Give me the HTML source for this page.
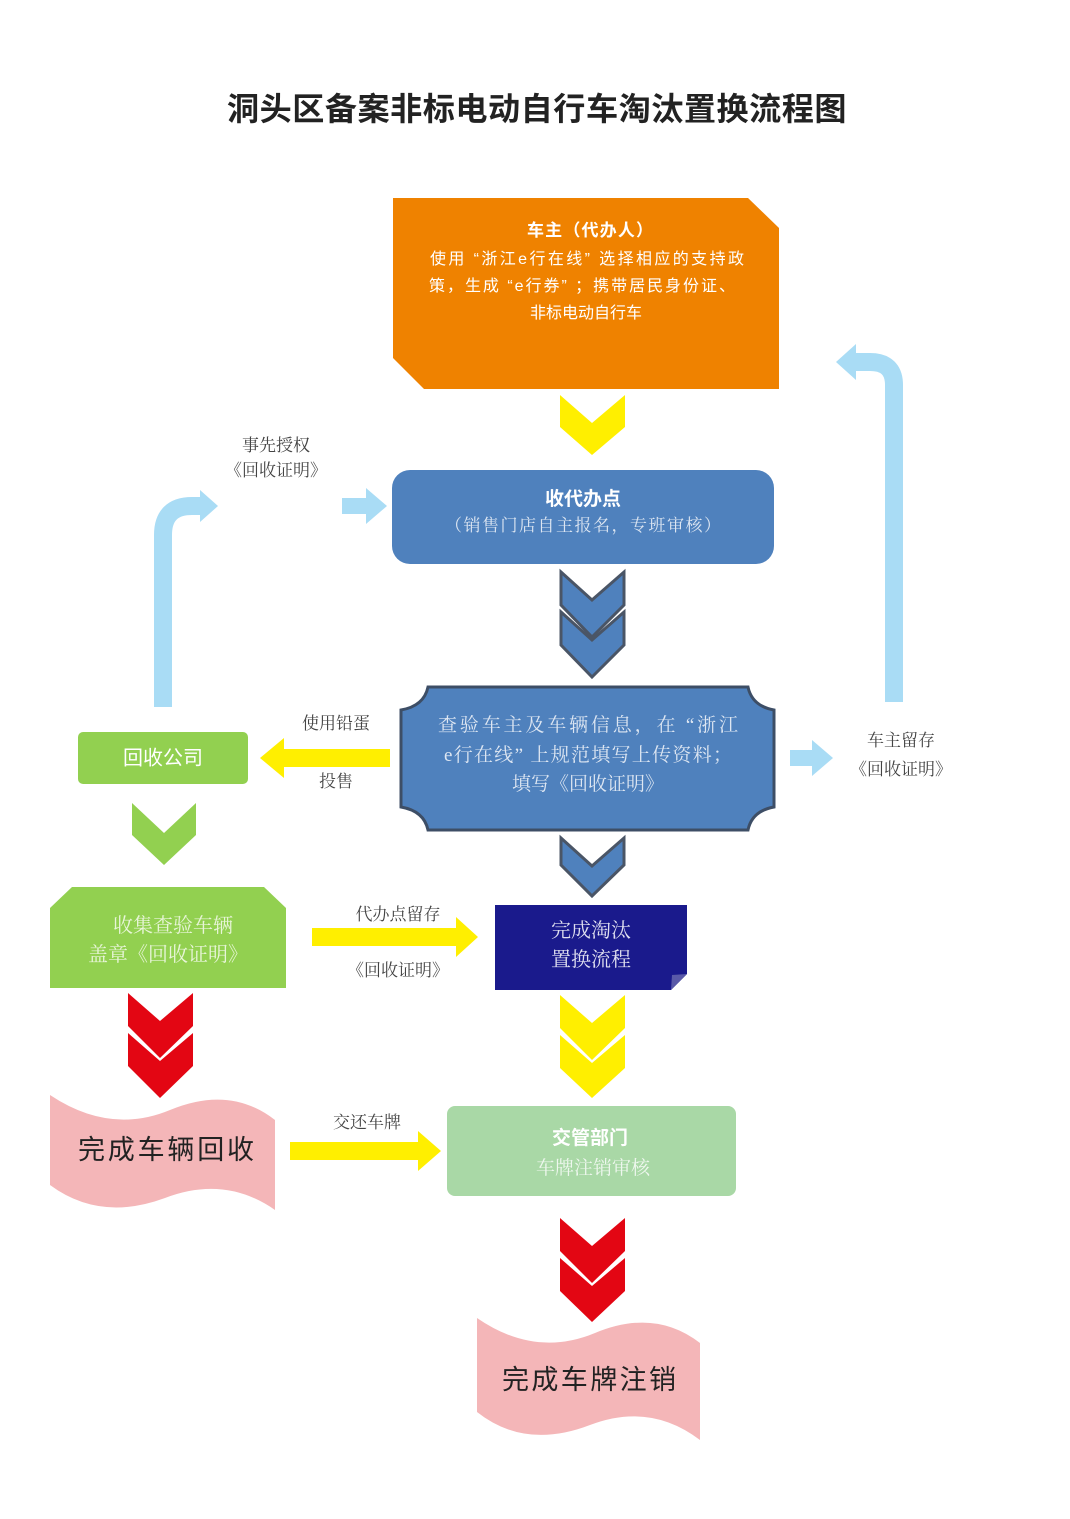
<!DOCTYPE html>
<html><head><meta charset="utf-8"><style>
html,body{margin:0;padding:0;background:#fff}
svg{display:block}
.s{font-family:"Liberation Serif","Noto Serif CJK SC",serif}
.h{font-family:"Liberation Sans","Noto Sans CJK SC",sans-serif}
</style></head><body>
<svg width="1070" height="1519" viewBox="0 0 1070 1519" xmlns="http://www.w3.org/2000/svg">
<text x="537" y="120" text-anchor="middle" class="h" font-size="32" font-weight="bold" fill="#222" letter-spacing="0.5" textLength="620" lengthAdjust="spacingAndGlyphs">洞头区备案非标电动自行车淘汰置换流程图</text>

<polygon points="393,198 748,198 779,228 779,389 424,389 393,358" fill="#ef8200"/>
<g class="h" fill="#fff" text-anchor="middle" font-size="16">
<text x="590" y="236" font-weight="bold" font-size="17" textLength="126">车主（代办人）</text>
<text x="587" y="264" textLength="314">使用 “浙江e行在线” 选择相应的支持政</text>
<text x="582" y="291" textLength="306">策，生成 “e行券” ；携带居民身份证、</text>
<text x="586" y="318">非标电动自行车</text>
</g>

<polygon points="560,395 592,423 625,395 625,427 592,455 560,427" fill="#ffef00"/>

<rect x="392" y="470" width="382" height="94" rx="18" fill="#4f81bd"/>
<text x="583" y="505" text-anchor="middle" class="h" font-size="19" font-weight="bold" fill="#fff">收代办点</text>
<text x="583" y="531" text-anchor="middle" class="s" font-size="17" fill="#dde6f2" textLength="276">（销售门店自主报名，专班审核）</text>

<g fill="#4f81bd" stroke="#4a5566" stroke-width="3">
<polygon points="561,572 592,600 624,572 624,605 592,637 561,605"/>
<polygon points="561,612 592,640 624,612 624,645 592,677 561,645"/>
<polygon points="561,838 592,866 624,838 624,865 592,896 561,865"/>
</g>

<path d="M428,687 L748,687 Q752,706 774,710 L774,807 Q752,811 748,830 L428,830 Q424,811 401,807 L401,710 Q424,706 428,687 Z" fill="#4f81bd" stroke="#3d4e66" stroke-width="3"/>
<g class="s" fill="#dde6f2" text-anchor="middle" font-size="19">
<text x="588" y="731" textLength="300">查验车主及车辆信息，在 “浙江</text>
<text x="588" y="761" textLength="288">e行在线” 上规范填写上传资料；</text>
<text x="588" y="790">填写《回收证明》</text>
</g>

<path d="M163,707 L163,535 Q163,506 192,506 L204,506" fill="none" stroke="#a9dcf5" stroke-width="18"/>
<polygon points="200,490 218,506 200,522" fill="#a9dcf5"/>
<rect x="342" y="498" width="26" height="16" fill="#a9dcf5"/>
<polygon points="366,488 387,506 366,524" fill="#a9dcf5"/>
<path d="M894,702 L894,385 Q894,362 870,362 L852,362" fill="none" stroke="#a9dcf5" stroke-width="18"/>
<polygon points="856,344 836,362 856,380" fill="#a9dcf5"/>
<rect x="790" y="750" width="24" height="16" fill="#a9dcf5"/>
<polygon points="812,740 833,758 812,776" fill="#a9dcf5"/>

<g class="s" fill="#444" font-size="17">
<text x="276" y="451" text-anchor="middle">事先授权</text>
<text x="276" y="476" text-anchor="middle">《回收证明》</text>
<text x="336" y="729" text-anchor="middle">使用铅蛋</text>
<text x="336" y="787" text-anchor="middle">投售</text>
<text x="901" y="746" text-anchor="middle">车主留存</text>
<text x="901" y="775" text-anchor="middle">《回收证明》</text>
<text x="398" y="920" text-anchor="middle">代办点留存</text>
<text x="398" y="976" text-anchor="middle">《回收证明》</text>
<text x="367" y="1128" text-anchor="middle">交还车牌</text>
</g>

<rect x="282" y="749" width="108" height="18" fill="#ffef00"/>
<polygon points="284,738 260,758 284,778" fill="#ffef00"/>
<rect x="312" y="928" width="146" height="18" fill="#ffef00"/>
<polygon points="456,917 478,937 456,957" fill="#ffef00"/>
<rect x="290" y="1142" width="130" height="18" fill="#ffef00"/>
<polygon points="418,1131 441,1151 418,1171" fill="#ffef00"/>

<rect x="78" y="732" width="170" height="52" rx="5" fill="#92d050"/>
<text x="163" y="759" text-anchor="middle" class="h" font-size="20" fill="#fff" dominant-baseline="middle">回收公司</text>
<polygon points="132,803 164,833 196,803 196,835 164,865 132,835" fill="#92d050"/>
<polygon points="72,887 264,887 286,908 286,988 50,988 50,908" fill="#92d050"/>
<g class="s" fill="#e8f5d8" text-anchor="middle" font-size="20">
<text x="173" y="932">收集查验车辆</text>
<text x="168" y="961">盖章《回收证明》</text>
</g>

<path d="M495,905 L687,905 L687,974 L671,990 L495,990 Z" fill="#1a1a8c"/>
<polygon points="671,990 687,974 672,975" fill="#5a5aa8"/>
<g class="s" fill="#e0e0f0" text-anchor="middle" font-size="20">
<text x="591" y="937">完成淘汰</text>
<text x="591" y="966">置换流程</text>
</g>

<g fill="#e30613">
<polygon points="128,993 160,1021 193,993 193,1026 160,1058 128,1026"/>
<polygon points="128,1033 160,1061 193,1033 193,1066 160,1098 128,1066"/>
<polygon points="560,1218 592,1246 625,1218 625,1251 592,1283 560,1251"/>
<polygon points="560,1258 592,1286 625,1258 625,1291 592,1322 560,1291"/>
</g>
<g fill="#ffef00">
<polygon points="560,995 592,1023 625,995 625,1028 592,1060 560,1028"/>
<polygon points="560,1035 592,1063 625,1035 625,1068 592,1098 560,1068"/>
</g>

<path d="M50,1095 Q110,1135 170,1110 Q230,1085 275,1120 L275,1210 Q225,1175 165,1198 Q100,1222 50,1185 Z" fill="#f4b6b8"/>
<text x="166" y="1159" text-anchor="middle" class="h" font-size="27" fill="#222" textLength="176">完成车辆回收</text>
<path d="M477,1318 Q535,1358 595,1333 Q655,1308 700,1343 L700,1440 Q650,1402 590,1425 Q525,1450 477,1412 Z" fill="#f4b6b8"/>
<text x="589" y="1389" text-anchor="middle" class="h" font-size="27" fill="#222" textLength="174">完成车牌注销</text>

<rect x="447" y="1106" width="289" height="90" rx="8" fill="#a9d8a6"/>
<text x="590" y="1144" text-anchor="middle" class="h" font-size="19" font-weight="bold" fill="#fff">交管部门</text>
<text x="593" y="1174" text-anchor="middle" class="s" font-size="19" fill="#eef7ee">车牌注销审核</text>
</svg>
</body></html>
